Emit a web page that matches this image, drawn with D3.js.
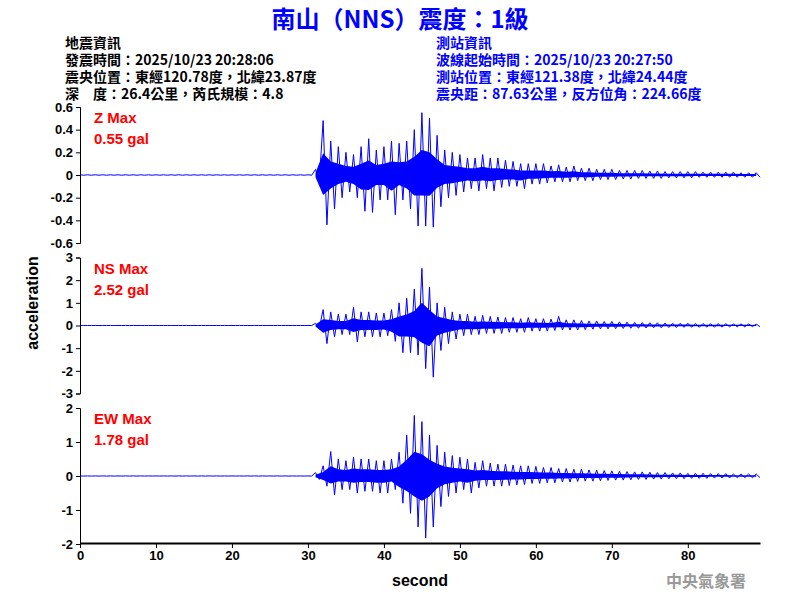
<!DOCTYPE html>
<html>
<head>
<meta charset="utf-8">
<script src="https://cdn.jsdelivr.net/npm/d3@7"></script>
<style>
  body { margin: 0; background: #fff; }
  text { font-family: Arial, "Liberation Sans", sans-serif; }
  .cjk { font-family: "Noto Sans CJK TC", sans-serif; }
</style>
</head>
<body>
<div id="chart-area"></div>
<script>
// DATA: per-second amplitude envelope (gal)
var seconds = d3.range(31, 90);   // 31 .. 89
var quietMax = 0.002;              // pre-event noise
var zMax  = [0.05,0.48,0.30,0.25,0.20,0.18,0.25,0.32,0.22,0.25,0.30,0.28,0.30,0.40,0.55,0.50,0.35,0.22,0.20,0.18,
             0.15,0.15,0.18,0.15,0.15,0.13,0.12,0.10,0.10,0.10,0.10,0.08,0.09,0.07,0.08,0.06,0.06,0.05,0.05,0.05,
             0.04,0.04,0.04,0.04,0.035,0.035,0.03,0.03,0.03,0.03,0.03,0.025,0.025,0.025,0.025,0.025,0.02,0.02,0.02];
var zMin  = [-0.05,-0.44,-0.30,-0.20,-0.15,-0.20,-0.32,-0.33,-0.22,-0.22,-0.35,-0.22,-0.30,-0.45,-0.45,-0.46,-0.28,-0.20,-0.18,-0.15,
             -0.12,-0.14,-0.12,-0.14,-0.11,-0.10,-0.10,-0.12,-0.08,-0.08,-0.07,-0.06,-0.06,-0.06,-0.05,-0.05,-0.05,-0.04,-0.04,-0.04,
             -0.035,-0.035,-0.03,-0.03,-0.03,-0.03,-0.025,-0.025,-0.025,-0.025,-0.02,-0.02,-0.02,-0.02,-0.02,-0.02,-0.02,-0.02,-0.02];
var nsMax = [0.1,0.7,0.6,0.5,0.5,0.8,0.6,0.6,0.55,0.55,0.7,1.0,1.2,1.6,2.52,1.7,1.0,0.8,0.6,0.5,
             0.5,0.4,0.45,0.4,0.38,0.35,0.35,0.3,0.35,0.3,0.3,0.28,0.4,0.25,0.25,0.22,0.2,0.2,0.18,0.18,
             0.16,0.15,0.14,0.13,0.12,0.12,0.11,0.1,0.1,0.1,0.09,0.09,0.08,0.08,0.08,0.07,0.07,0.07,0.06];
var nsMin = [-0.1,-0.8,-0.5,-0.4,-0.4,-0.72,-0.5,-0.5,-0.5,-0.45,-0.7,-1.2,-1.2,-1.3,-1.9,-2.28,-1.1,-0.8,-0.6,-0.45,
             -0.4,-0.4,-0.35,-0.35,-0.35,-0.3,-0.3,-0.3,-0.25,-0.25,-0.25,-0.22,-0.2,-0.2,-0.2,-0.18,-0.16,-0.15,-0.15,-0.14,
             -0.13,-0.12,-0.12,-0.11,-0.1,-0.1,-0.09,-0.09,-0.08,-0.08,-0.08,-0.07,-0.07,-0.07,-0.06,-0.06,-0.06,-0.05,-0.05];
var ewMax = [0.1,0.3,0.72,0.5,0.45,0.55,0.5,0.5,0.45,0.45,0.5,0.7,1.2,1.78,1.6,1.2,0.9,0.7,0.6,0.55,
             0.5,0.4,0.45,0.38,0.35,0.35,0.32,0.3,0.3,0.28,0.25,0.25,0.22,0.22,0.2,0.2,0.18,0.17,0.16,0.15,
             0.14,0.13,0.12,0.12,0.11,0.1,0.1,0.09,0.09,0.08,0.08,0.08,0.07,0.07,0.07,0.06,0.06,0.06,0.06];
var ewMin = [-0.1,-0.3,-0.56,-0.4,-0.4,-0.5,-0.45,-0.45,-0.5,-0.5,-0.4,-0.8,-1.1,-1.5,-1.82,-1.5,-0.9,-0.6,-0.5,-0.4,
             -0.5,-0.35,-0.3,-0.3,-0.3,-0.28,-0.26,-0.25,-0.22,-0.22,-0.2,-0.2,-0.18,-0.18,-0.16,-0.15,-0.15,-0.14,-0.13,-0.12,
             -0.12,-0.11,-0.1,-0.1,-0.09,-0.09,-0.08,-0.08,-0.08,-0.07,-0.07,-0.07,-0.06,-0.06,-0.06,-0.05,-0.05,-0.05,-0.05];

var panels = [
  { name: "Z",  peak: "0.55 gal", hi: zMax,  lo: zMin,  dom: 0.6, ticks: [-0.6,-0.4,-0.2,0,0.2,0.4,0.6], top: 107 },
  { name: "NS", peak: "2.52 gal", hi: nsMax, lo: nsMin, dom: 3,   ticks: [-3,-2,-1,0,1,2,3],            top: 257.5 },
  { name: "EW", peak: "1.78 gal", hi: ewMax, lo: ewMin, dom: 2,   ticks: [-2,-1,0,1,2],                 top: 408 }
];
var xTicks = [0, 10, 20, 30, 40, 50, 60, 70, 80];

var leftText = ["地震資訊", "發震時間：2025/10/23 20:28:06", "震央位置：東經120.78度，北緯23.87度", "深　度：26.4公里，芮氏規模：4.8"];
var rightText = ["測站資訊", "波線起始時間：2025/10/23 20:27:50", "測站位置：東經121.38度，北緯24.44度", "震央距：87.63公里，反方位角：224.66度"];

var svg = d3.select("#chart-area").append("svg").attr("width", 800).attr("height", 600);

// title and header
svg.append("text").attr("class", "cjk").attr("x", 400).attr("y", 28).attr("text-anchor", "middle")
  .attr("font-size", "24px").attr("font-weight", "bold").attr("fill", "#0000ff")
  .text("南山（NNS）震度：1級");
leftText.forEach(function (t, i) {
  svg.append("text").attr("class", "cjk").attr("x", 65).attr("y", 48 + i * 17)
    .attr("font-size", "14px").attr("font-weight", "bold").attr("fill", "#000").text(t);
});
rightText.forEach(function (t, i) {
  svg.append("text").attr("class", "cjk").attr("x", 436).attr("y", 48 + i * 17)
    .attr("font-size", "14px").attr("font-weight", "bold").attr("fill", "#0000ff").text(t);
});

var x = d3.scaleLinear().domain([0, 89.5]).range([80, 760]);
var panelH = 136;

panels.forEach(function (p) {
  var y = d3.scaleLinear().domain([-p.dom, p.dom]).range([p.top + panelH, p.top]);
  var g = svg.append("g");

  // zigzag through envelope: quiet lead-in, then max/min each second
  var pts = [];
  for (var t = 0; t < 31; t += 0.5) pts.push([t, (pts.length % 2 ? -1 : 1) * quietMax]);
  seconds.forEach(function (s, i) {
    pts.push([s, p.hi[i]]);
    pts.push([s + 0.5, p.lo[i]]);
  });
  var line = d3.line().x(function (d) { return x(d[0]); }).y(function (d) { return y(d[1]); });
  g.append("path").datum(pts).attr("d", line).attr("fill", "none")
    .attr("stroke", "#0000ff").attr("stroke-width", 1);
  // inner fill to mimic dense trace
  var area = d3.area().x(function (d, i) { return x(seconds[i]); })
    .y0(function (d, i) { return y(p.lo[i] * 0.4); })
    .y1(function (d, i) { return y(p.hi[i] * 0.4); });
  g.append("path").datum(seconds).attr("d", area).attr("fill", "#0000ff");

  var ax = g.append("g").attr("transform", "translate(80,0)")
    .call(d3.axisLeft(y).tickValues(p.ticks).tickSize(4).tickFormat(d3.format("~g")));
  ax.selectAll("text").attr("font-size", "13px").attr("font-weight", "bold").attr("fill", "#000")
    .text(function (d) { return d3.format("~g")(d).replace("−", "-"); });
  ax.selectAll("path,line").attr("stroke", "#000");

  g.append("text").attr("x", 94).attr("y", p.top + 16).attr("font-size", "15px")
    .attr("font-weight", "bold").attr("fill", "#ff0000").text(p.name + " Max");
  g.append("text").attr("x", 94).attr("y", p.top + 37).attr("font-size", "15px")
    .attr("font-weight", "bold").attr("fill", "#ff0000").text(p.peak);
});

var bx = svg.append("g").attr("transform", "translate(0,543)")
  .call(d3.axisBottom(x).tickValues(xTicks).tickSize(5).tickSizeOuter(0));
bx.selectAll("text").attr("font-size", "13px").attr("font-weight", "bold").attr("fill", "#000");
bx.select(".domain").attr("stroke-width", 2);

svg.append("text").attr("x", 420).attr("y", 586).attr("text-anchor", "middle")
  .attr("font-size", "16px").attr("font-weight", "bold").text("second");
svg.append("text").attr("transform", "translate(38,303) rotate(-90)").attr("text-anchor", "middle")
  .attr("font-size", "16px").attr("font-weight", "bold").text("acceleration");
svg.append("text").attr("class", "cjk").attr("x", 746).attr("y", 587).attr("text-anchor", "end")
  .attr("font-size", "16px").attr("font-weight", "bold").attr("fill", "#999").text("中央氣象署");
</script>
</body>
</html>
